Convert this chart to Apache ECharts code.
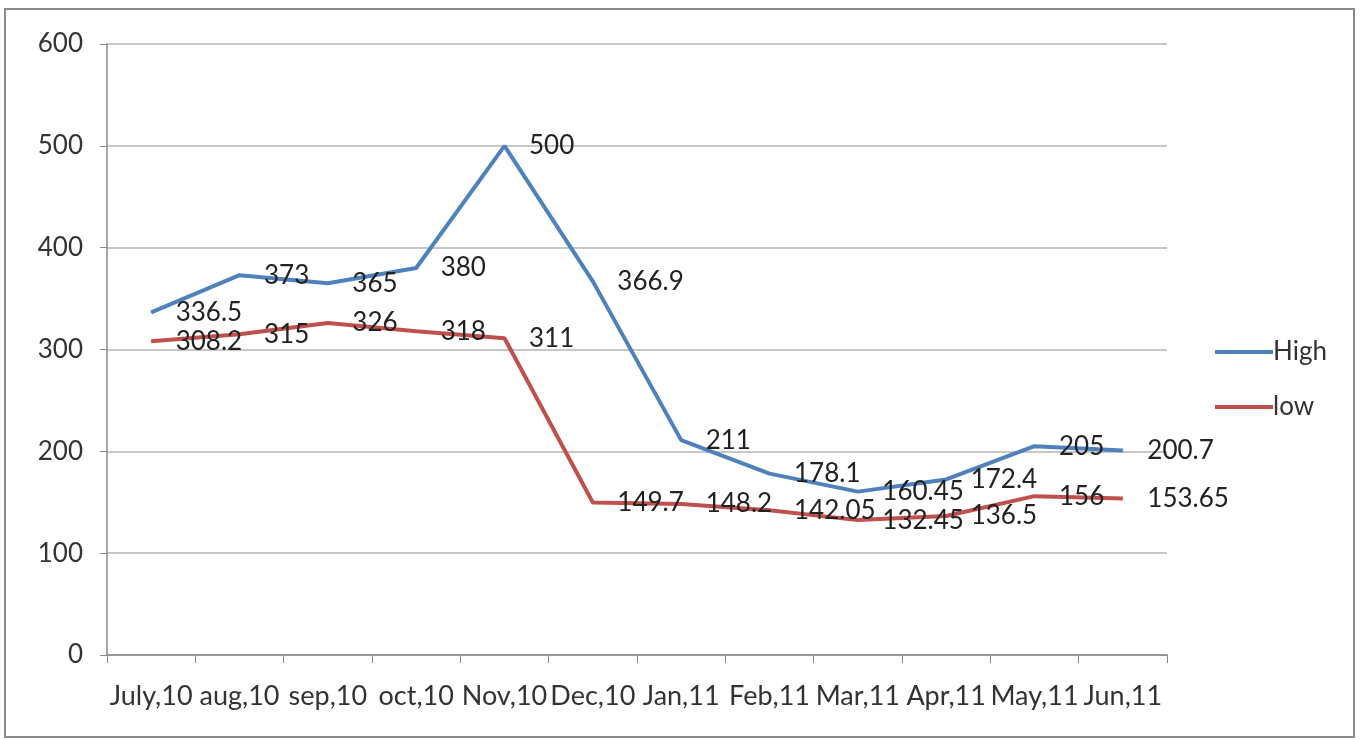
<!DOCTYPE html>
<html><head><meta charset="utf-8">
<script src="https://cdn.jsdelivr.net/npm/echarts@6/dist/echarts.min.js"></script>
<style>html,body{margin:0;padding:0;background:#fff}#c{width:1360px;height:740px}</style>
</head><body><div id="c"></div>
<script>
const categories = ["July,10","aug,10","sep,10","oct,10","Nov,10","Dec,10","Jan,11","Feb,11","Mar,11","Apr,11","May,11","Jun,11"];
const highValues = [336.5,373,365,380,500,366.9,211,178.1,160.45,172.4,205,200.7];
const lowValues = [308.2,315,326,318,311,149.7,148.2,142.05,132.45,136.5,156,153.65];
const yTicks = [0,100,200,300,400,500,600];

const FONT = 'Lato, "Open Sans", sans-serif';
const chart = echarts.init(document.getElementById('c'));
const lbl = {show:true, position:'right', distance:24, fontFamily:FONT, fontSize:26, color:'#222'};
chart.setOption({
  animation:false,
  graphic:[{type:'rect', shape:{x:5,y:9,width:1349,height:728}, style:{fill:'none', stroke:'#8a8a8a', lineWidth:2}, silent:true}],
  grid:{left:107, right:193, top:44, bottom:85},
  legend:{
    orient:'vertical', left:1210, top:334, itemWidth:58, itemHeight:4, itemGap:29, icon:'rect',
    textStyle:{fontFamily:FONT, fontSize:26, color:'#333', padding:[0,0,0,-5]},
    data:['High','low']
  },
  xAxis:{
    type:'category', data:categories, boundaryGap:true,
    axisLine:{lineStyle:{color:'#888', width:1.5}},
    axisTick:{show:true, length:8, lineStyle:{color:'#888'}},
    axisLabel:{interval:0, margin:28, fontFamily:FONT, fontSize:27, color:'#333'}
  },
  yAxis:{
    type:'value', min:yTicks[0], max:yTicks[yTicks.length-1], interval:100,
    axisLine:{show:true, lineStyle:{color:'#888', width:1.5}},
    axisTick:{show:true, length:7, lineStyle:{color:'#888'}},
    splitLine:{lineStyle:{color:'#b5b5b5', width:1.5}},
    axisLabel:{margin:24, fontFamily:FONT, fontSize:26, color:'#333'}
  },
  series:[
    {name:'High', type:'line', data:highValues, symbol:'circle', symbolSize:1, showSymbol:true,
     lineStyle:{color:'#4F81BD', width:4}, itemStyle:{color:'#4F81BD'}, label:lbl},
    {name:'low', type:'line', data:lowValues, symbol:'circle', symbolSize:1, showSymbol:true,
     lineStyle:{color:'#C0504D', width:4}, itemStyle:{color:'#C0504D'}, label:lbl}
  ]
});
</script></body></html>
